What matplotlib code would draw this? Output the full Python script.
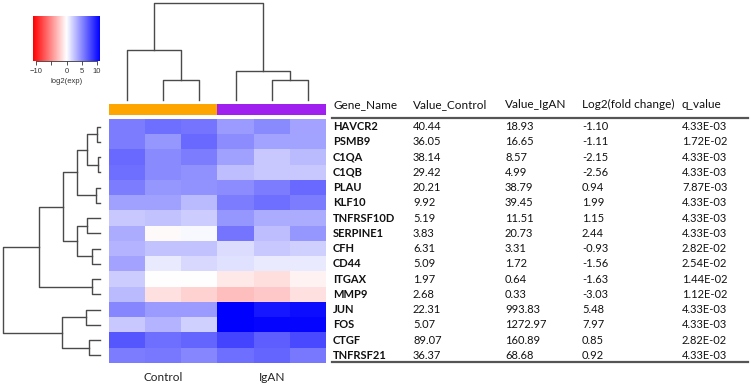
import numpy as np
import matplotlib.pyplot as plt
from matplotlib.colors import LinearSegmentedColormap, ListedColormap, Normalize

W, H = 751, 385

genes = ["HAVCR2", "PSMB9", "C1QA", "C1QB", "PLAU", "KLF10", "TNFRSF10D", "SERPINE1",
         "CFH", "CD44", "ITGAX", "MMP9", "JUN", "FOS", "CTGF", "TNFRSF21"]
value_control = [40.44, 36.05, 38.14, 29.42, 20.21, 9.92, 5.19, 3.83,
                 6.31, 5.09, 1.97, 2.68, 22.31, 5.07, 89.07, 36.37]
value_igan = [18.93, 16.65, 8.57, 4.99, 38.79, 39.45, 11.51, 20.73,
              3.31, 1.72, 0.64, 0.33, 993.83, 1272.97, 160.89, 68.68]
log2_fc = [-1.10, -1.11, -2.15, -2.56, 0.94, 1.99, 1.15, 2.44,
           -0.93, -1.56, -1.63, -3.03, 5.48, 7.97, 0.85, 0.92]
q_value = [4.33e-3, 1.72e-2, 4.33e-3, 4.33e-3, 7.87e-3, 4.33e-3, 4.33e-3, 4.33e-3,
           2.82e-2, 2.54e-2, 1.44e-2, 1.12e-2, 4.33e-3, 4.33e-3, 2.82e-2, 4.33e-3]
header = ["Gene_Name", "Value_Control", "Value_IgAN", "Log2(fold change)", "q_value"]

groups = ["Control", "IgAN"]
n_per_group = 3

# log2 expression per sample (3 control, 3 IgAN)
log2_exp = [
    [5.6, 6.2, 6.0, 4.3, 5.0, 3.9],
    [5.6, 4.5, 6.4, 4.9, 4.0, 4.0],
    [6.4, 5.0, 5.6, 4.1, 2.4, 3.0],
    [6.2, 5.0, 4.8, 2.8, 2.4, 2.4],
    [5.6, 4.5, 4.7, 4.9, 5.6, 6.4],
    [4.1, 4.1, 3.0, 5.6, 6.2, 5.6],
    [2.4, 2.6, 2.2, 4.5, 3.6, 3.6],
    [3.6, -0.2, 0.3, 6.0, 2.8, 4.5],
    [3.2, 2.6, 2.6, 1.5, 2.4, 2.0],
    [3.9, 0.9, 1.7, 1.3, 0.9, 0.9],
    [2.2, 0.0, 0.0, -1.0, -1.4, -0.6],
    [3.0, -1.3, -1.9, -2.8, -2.4, -1.3],
    [5.2, 4.3, 4.3, 11.0, 10.0, 10.4],
    [2.4, 3.2, 2.0, 11.0, 10.8, 10.8],
    [7.3, 6.2, 6.7, 8.0, 6.9, 7.8],
    [5.6, 5.8, 5.2, 6.2, 6.7, 5.8],
]

# merges (left, right, height) in display order, scipy style numbering
col_linkage = [(1, 2, 0.21), (4, 5, 0.21), (3, 7, 0.30), (0, 6, 0.52), (9, 8, 1.0)]
row_linkage = [(0, 1, 0.03), (2, 3, 0.02), (4, 5, 0.04), (16, 17, 0.134),
               (19, 18, 0.237), (6, 7, 0.134), (8, 9, 0.082), (21, 22, 0.237),
               (20, 23, 0.38), (10, 11, 0.082), (24, 25, 0.63), (12, 13, 0.144),
               (14, 15, 0.113), (27, 28, 0.39), (26, 29, 1.0)]

cmap = LinearSegmentedColormap.from_list("rwb", ["red", "white", "blue"])
norm = Normalize(-11, 11)
line_col = "#4a4a4a"
plt.rcParams['font.family'] = ['Lato', 'DejaVu Sans']


def px_axes(fig, x0, y0, x1, y1):
    return fig.add_axes([x0 / W, 1 - y1 / H, (x1 - x0) / W, (y1 - y0) / H])


def dendro(linkage, n):
    pos = {i: float(i) for i in range(n)}
    hgt = {i: 0.0 for i in range(n)}
    segs = []
    for k, (a, b, h) in enumerate(linkage):
        segs.append(([pos[a], pos[a], pos[b], pos[b]], [hgt[a], h, h, hgt[b]]))
        pos[n + k] = (pos[a] + pos[b]) / 2
        hgt[n + k] = h
    return segs


fig = plt.figure(figsize=(W / 100, H / 100), dpi=100)
mat = np.array(log2_exp)
nr, nc = mat.shape

# heatmap
ax = px_axes(fig, 109, 119, 326, 363)
ax.imshow(mat, cmap=cmap, norm=norm, aspect='auto', interpolation='nearest')
ax.set_xlim(-0.5, nc - 0.5)
ax.set_ylim(nr - 0.5, -0.5)
ax.axis('off')
for g, name in enumerate(groups):
    ax.text(g * n_per_group + 1, nr + 0.42, name, ha='center', va='center',
            fontsize=8.5, color='#222222', clip_on=False)

# group colour bar
axg = px_axes(fig, 109, 104, 326, 115)
grp_idx = np.repeat(np.arange(len(groups)), n_per_group)[None, :]
axg.imshow(grp_idx, cmap=ListedColormap(["#FFA500", "#A020F0"]), aspect='auto', interpolation='nearest')
axg.axis('off')

# column dendrogram
axc = px_axes(fig, 109, 3, 326, 100)
for xs, ys in dendro(col_linkage, nc):
    axc.plot(xs, ys, color=line_col, lw=1.0, clip_on=False)
axc.set_xlim(-0.5, nc - 0.5)
axc.set_ylim(0, 1.0)
axc.axis('off')

# row dendrogram
axr = px_axes(fig, 3, 119, 100, 363)
for xs, ys in dendro(row_linkage, nr):
    axr.plot(ys, xs, color=line_col, lw=1.0, clip_on=False)
axr.set_xlim(1.0, 0)
axr.set_ylim(nr - 0.5, -0.5)
axr.axis('off')

# colour key
axk = px_axes(fig, 33, 16, 100, 61)
grad = np.linspace(-11, 11, 256)[None, :]
axk.imshow(grad, cmap=cmap, norm=norm, aspect='auto', extent=(-11, 11, 0, 1))
axk.set_yticks([])
for s in ['top', 'left', 'right']:
    axk.spines[s].set_visible(False)
axk.spines['bottom'].set_bounds(-10, 10)
axk.spines['bottom'].set_color('#333333')
axk.spines['bottom'].set_linewidth(0.6)
axk.set_xticks([-10, -5, 0, 5, 10])
axk.set_xticklabels(["\u221210", "", "0", "5", "10"], fontsize=5.5, color='#333333',
                    family='Liberation Sans')
axk.tick_params(axis='x', length=3, width=0.6, color='#333333', pad=2)
axk.set_xlabel("log2(exp)", fontsize=5.5, color='#333333', family='Liberation Sans', labelpad=2)

# table
axt = px_axes(fig, 332, 119, 748, 363)
axt.set_xlim(332, 748)
axt.set_ylim(nr - 0.5, -0.5)
axt.axis('off')
col_x = [333, 413, 505, 582, 682]
for x, h in zip(col_x, header):
    axt.text(x, -1.42, h, ha='left', va='center', fontsize=8.5, color='#111111', clip_on=False)
axt.plot([332, 748], [-0.55, -0.55], color='#555555', lw=1.6, clip_on=False)
axt.plot([332, 748], [nr - 0.55, nr - 0.55], color='#555555', lw=1.6, clip_on=False)
for i, g in enumerate(genes):
    cells = [g, f"{value_control[i]:.2f}", f"{value_igan[i]:.2f}",
             f"{log2_fc[i]:.2f}", f"{q_value[i]:.2E}"]
    for j, (x, t) in enumerate(zip(col_x, cells)):
        axt.text(x, i, t, ha='left', va='center', fontsize=8,
                 fontweight='bold' if j == 0 else 'normal', color='#111111')

fig.savefig("out.png", dpi=100)
